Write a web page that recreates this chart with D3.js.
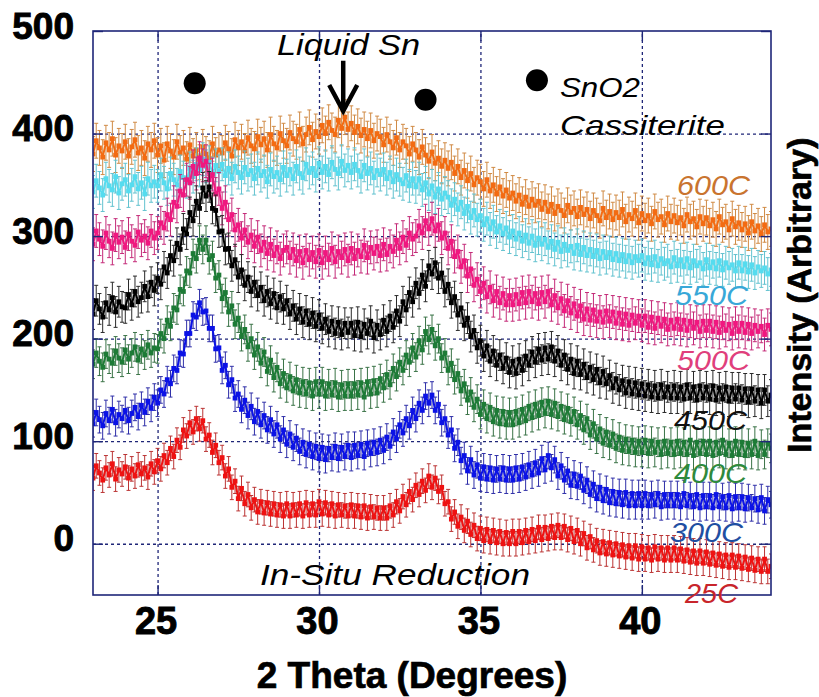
<!DOCTYPE html>
<html>
<head>
<meta charset="utf-8">
<script src="https://cdn.jsdelivr.net/npm/d3@7"></script>
<style>
  html, body { margin: 0; padding: 0; background: #ffffff; }
  svg { display: block; font-family: "Liberation Sans", Arial, sans-serif; }
</style>
</head>
<body>
<svg id="chart" width="819" height="697"></svg>
<script>
// In-situ XRD scans of SnO2 reduction, 2-theta from 23 to 44 deg in 0.1 deg steps
// (one row below = one degree).
const scanStart = 23.0;
const scanStep = 0.1;

const temperatures = ["600C", "550C", "500C", "450C", "400C", "300C", "25C"];

const scan600 = [
  380, 393, 386, 377, 391, 384, 395, 379, 388, 383,
  392, 378, 387, 394, 381, 386, 376, 390, 384, 393,
  379, 388, 374, 390, 383, 377, 392, 381, 386, 375,
  389, 378, 384, 372, 387, 380, 376, 390, 379, 384,
  381, 391, 385, 378, 394, 386, 392, 383, 396, 388,
  385, 397, 389, 395, 384, 399, 390, 386, 400, 393,
  388, 401, 395, 392, 404, 390, 399, 406, 394, 402,
  397, 408, 400, 411, 403, 399, 413, 405, 416, 404,
  410, 401, 407, 398, 404, 395, 403, 393, 400, 397,
  389, 399, 392, 386, 396, 384, 392, 388, 380, 390,
  384, 377, 387, 379, 373, 382, 371, 376, 368, 374,
  366, 372, 361, 368, 357, 364, 354, 361, 350, 357,
  353, 346, 355, 344, 350, 341, 348, 339, 345, 337,
  342, 334, 340, 331, 338, 329, 336, 330, 334, 326,
  333, 324, 331, 322, 329, 325, 320, 330, 323, 327,
  319, 328, 321, 326, 317, 325, 320, 315, 327, 318,
  324, 316, 323, 318, 326, 314, 321, 317, 325, 313,
  322, 315, 320, 312, 324, 316, 319, 311, 322, 314,
  320, 313, 318, 310, 321, 314, 317, 309, 319, 312,
  318, 310, 316, 307, 319, 311, 314, 306, 317, 309,
  313, 306, 312, 303, 314, 305, 310, 302, 311, 304,
  307
];
const scan550 = [
  343, 354, 347, 340, 356, 349, 345, 358, 342, 351,
  355, 344, 350, 358, 346, 352, 341, 356, 349, 353,
  349, 360, 352, 346, 361, 355, 350, 363, 357, 353,
  366, 358, 370, 364, 375, 368, 372, 361, 369, 363,
  370, 359, 366, 356, 368, 362, 357, 367, 360, 364,
  356, 366, 359, 363, 353, 365, 358, 362, 355, 367,
  359, 365, 356, 368, 361, 357, 370, 362, 366, 359,
  371, 362, 368, 360, 372, 365, 361, 373, 364, 369,
  362, 370, 364, 358, 369, 361, 366, 357, 364, 360,
  365, 356, 362, 353, 360, 355, 351, 359, 349, 356,
  348, 356, 345, 352, 341, 349, 338, 346, 336, 342,
  338, 330, 336, 326, 333, 322, 329, 318, 325, 316,
  320, 311, 317, 307, 314, 304, 310, 302, 308, 299,
  305, 297, 303, 295, 301, 293, 300, 291, 298, 292,
  297, 289, 295, 287, 294, 285, 292, 286, 290, 283,
  291, 282, 289, 281, 287, 280, 286, 278, 285, 279,
  284, 277, 283, 276, 282, 275, 281, 274, 280, 276,
  281, 273, 279, 272, 280, 271, 278, 273, 276, 270,
  279, 271, 277, 270, 278, 269, 276, 271, 274, 268,
  277, 269, 275, 268, 276, 267, 274, 269, 272, 266,
  274, 266, 273, 265, 272, 264, 270, 266, 269, 263,
  267
];
const scan500 = [
  292, 305, 297, 290, 303, 295, 288, 301, 294, 299,
  289, 302, 295, 291, 304, 296, 300, 293, 305, 298,
  303, 313, 308, 321, 316, 333, 329, 344, 340, 355,
  352, 368, 361, 376, 369, 373, 355, 360, 341, 346,
  327, 333, 316, 321, 306, 311, 298, 306, 294, 301,
  290, 299, 286, 294, 283, 292, 281, 289, 278, 286,
  289, 279, 287, 276, 285, 274, 286, 277, 284, 275,
  286, 274, 284, 277, 288, 275, 285, 279, 287, 276,
  288, 278, 286, 280, 291, 279, 289, 283, 290, 281,
  292, 282, 290, 285, 296, 288, 299, 291, 303, 297,
  300, 310, 303, 315, 307, 317, 305, 311, 298, 303,
  288, 295, 280, 285, 270, 276, 261, 268, 252, 258,
  246, 254, 241, 250, 237, 246, 235, 244, 233, 242,
  233, 243, 234, 245, 235, 246, 236, 244, 234, 245,
  236, 246, 233, 242, 230, 239, 227, 237, 225, 234,
  222, 232, 219, 229, 218, 228, 217, 226, 216, 227,
  217, 226, 215, 225, 214, 224, 213, 223, 215, 222,
  213, 222, 211, 221, 210, 220, 212, 219, 209, 218,
  210, 219, 209, 218, 208, 217, 210, 216, 207, 217,
  208, 217, 207, 216, 206, 215, 208, 214, 205, 215,
  207, 215, 206, 214, 205, 213, 207, 212, 204, 213,
  209
];
const scan450 = [
  224, 237, 229, 221, 235, 228, 240, 226, 236, 231,
  230, 243, 233, 246, 236, 240, 251, 241, 255, 247,
  259, 253, 270, 264, 281, 276, 293, 287, 307, 302,
  323, 315, 334, 327, 347, 339, 348, 327, 325, 304,
  305, 287, 288, 271, 277, 260, 267, 252, 260, 246,
  255, 242, 250, 237, 246, 234, 244, 230, 241, 229,
  237, 224, 232, 219, 229, 216, 227, 214, 225, 212,
  223, 210, 219, 207, 217, 205, 216, 204, 215, 206,
  215, 203, 216, 202, 214, 205, 217, 201, 213, 204,
  218, 207, 222, 211, 227, 217, 236, 228, 245, 236,
  254, 244, 262, 251, 271, 263, 274, 259, 264, 246,
  253, 235, 241, 223, 230, 213, 220, 202, 208, 191,
  198, 183, 193, 178, 188, 174, 184, 171, 181, 167,
  178, 166, 180, 169, 183, 174, 187, 177, 190, 179,
  191, 180, 192, 178, 188, 174, 184, 170, 180, 166,
  178, 165, 175, 162, 172, 160, 170, 157, 168, 156,
  164, 152, 161, 150, 159, 147, 158, 146, 157, 145,
  156, 144, 155, 143, 154, 142, 155, 143, 153, 142,
  154, 142, 153, 141, 155, 142, 153, 140, 154, 142,
  153, 141, 154, 140, 152, 141, 153, 139, 152, 141,
  152, 140, 151, 138, 151, 139, 150, 137, 150, 139,
  145
];
const scan400 = [
  175, 186, 178, 172, 185, 180, 176, 188, 181, 177,
  189, 180, 186, 192, 179, 190, 184, 194, 186, 191,
  190, 205, 200, 218, 212, 230, 228, 248, 246, 266,
  264, 283, 278, 296, 287, 296, 277, 281, 259, 262,
  239, 245, 226, 232, 214, 220, 202, 209, 192, 200,
  184, 192, 176, 187, 168, 179, 162, 172, 156, 166,
  152, 163, 149, 160, 147, 158, 146, 157, 144, 158,
  146, 158, 144, 156, 145, 157, 143, 155, 144, 156,
  144, 156, 145, 157, 143, 158, 146, 159, 147, 161,
  152, 165, 155, 171, 163, 177, 169, 184, 177, 191,
  182, 198, 189, 207, 199, 209, 193, 200, 181, 186,
  169, 176, 160, 166, 149, 156, 140, 148, 133, 141,
  126, 136, 122, 133, 119, 130, 117, 129, 116, 128,
  116, 129, 118, 131, 120, 134, 123, 136, 125, 138,
  127, 139, 126, 137, 124, 134, 121, 132, 119, 129,
  116, 125, 111, 122, 106, 117, 102, 112, 98, 109,
  96, 107, 93, 104, 91, 102, 90, 101, 89, 100,
  89, 101, 88, 100, 89, 99, 87, 100, 88, 99,
  87, 100, 88, 99, 87, 101, 86, 99, 88, 100,
  87, 100, 86, 99, 88, 101, 87, 98, 86, 100,
  87, 99, 86, 98, 87, 100, 86, 97, 87, 98,
  93
];
const scan300 = [
  117, 128, 121, 115, 127, 120, 131, 118, 126, 122,
  130, 120, 127, 133, 124, 135, 128, 139, 132, 143,
  137, 150, 146, 160, 156, 171, 169, 186, 185, 205,
  205, 223, 221, 235, 226, 227, 210, 210, 190, 191,
  169, 174, 155, 160, 142, 146, 131, 140, 125, 134,
  119, 129, 116, 125, 111, 121, 107, 116, 102, 111,
  97, 107, 94, 103, 90, 99, 87, 97, 85, 95,
  83, 94, 82, 93, 84, 95, 83, 94, 85, 96,
  84, 96, 86, 97, 85, 98, 88, 99, 89, 101,
  91, 104, 95, 109, 102, 116, 108, 122, 115, 130,
  122, 137, 130, 144, 137, 145, 130, 136, 118, 122,
  106, 111, 93, 99, 81, 86, 71, 82, 67, 77,
  64, 75, 63, 74, 62, 73, 63, 74, 62, 73,
  62, 74, 63, 75, 65, 77, 67, 79, 69, 83,
  72, 86, 74, 82, 66, 76, 62, 71, 57, 68,
  56, 66, 52, 62, 48, 58, 44, 55, 42, 53,
  40, 51, 39, 50, 38, 50, 37, 49, 37, 49,
  37, 49, 37, 48, 38, 49, 36, 48, 37, 48,
  37, 48, 36, 49, 37, 47, 36, 48, 35, 47,
  36, 47, 35, 48, 36, 46, 35, 47, 34, 46,
  35, 46, 34, 45, 35, 44, 33, 45, 32, 43,
  38
];
const scan25 = [
  64, 76, 69, 62, 74, 67, 78, 63, 72, 68,
  75, 64, 73, 66, 77, 68, 74, 65, 78, 70,
  81, 73, 86, 79, 93, 85, 101, 94, 111, 105,
  118, 109, 122, 112, 120, 102, 106, 89, 96, 79,
  84, 66, 73, 55, 61, 44, 54, 39, 48, 35,
  43, 31, 41, 30, 40, 29, 39, 28, 38, 27,
  39, 27, 38, 28, 39, 27, 40, 28, 39, 28,
  41, 29, 40, 28, 39, 27, 38, 28, 37, 27,
  38, 27, 37, 26, 37, 25, 36, 26, 35, 25,
  35, 25, 37, 28, 41, 32, 46, 38, 51, 43,
  57, 48, 61, 52, 66, 55, 64, 51, 55, 39,
  41, 24, 31, 17, 26, 13, 22, 9, 18, 5,
  15, 3, 14, 2, 13, 1, 12, 0, 11, 0,
  12, 0, 12, 1, 13, 2, 14, 3, 16, 4,
  16, 5, 17, 6, 18, 6, 17, 4, 15, 2,
  13, 0, 10, -4, 7, -6, 3, -9, 2, -10,
  1, -11, 0, -12, -1, -13, -2, -14, -2, -15,
  -3, -15, -4, -16, -3, -15, -4, -16, -4, -16,
  -4, -16, -5, -17, -6, -18, -7, -19, -7, -19,
  -8, -20, -9, -21, -10, -22, -11, -23, -11, -23,
  -12, -24, -13, -25, -14, -26, -15, -27, -15, -27,
  -22
];

// counting-statistics error (+/-) for each scan
const scanErrors = [17, 16, 16, 15, 14, 13, 12];

const xTicks = [25, 30, 35, 40];
const yTicks = [0, 100, 200, 300, 400, 500];

// SnO2 (cassiterite) reflections and the liquid Sn hump
const cassiteritePeaks = [26.15, 33.3, 36.75];
const cassiteriteMarkHeights = [449, 433, 452];
const liquidSnPeak = 30.75;
const liquidSnArrow = [471, 422];

// ---------------------------------------------------------------------------
const scans = [scan600, scan550, scan500, scan450, scan400, scan300, scan25];

const style = {
  "600C": { mark: "#f36b12", bar: "#d08a44", label: "#c9742f" },
  "550C": { mark: "#55dcef", bar: "#62c2cf", label: "#38a8d8" },
  "500C": { mark: "#f0177f", bar: "#c42a78", label: "#e03f7c" },
  "450C": { mark: "#000000", bar: "#2a2a2a", label: "#111111" },
  "400C": { mark: "#1d7b36", bar: "#3a7347", label: "#2e8a3c" },
  "300C": { mark: "#0b12e6", bar: "#2f2fa8", label: "#1f4fa2" },
  "25C":  { mark: "#ee1212", bar: "#bb3434", label: "#c8252b" }
};

// where each scan's temperature tag sits (right edge, baseline)
const tagPlacement = {
  "600C": [750, 195], "550C": [748, 305], "500C": [750, 370],
  "450C": [747, 430], "400C": [747, 483], "300C": [743, 542], "25C": [738, 603]
};

const svg = d3.select("#chart");
const plotL = 93, plotR = 771, plotT = 31, plotB = 595;
const navy = "#1f2678";

const x = d3.scaleLinear().domain([23, 44]).range([plotL, plotR]);
const y = d3.scaleLinear().domain([-50, 500]).range([plotB, plotT]);

// dotted grid
const gx = svg.append("g").attr("transform", `translate(0,${plotB})`)
  .call(d3.axisBottom(x).tickValues(xTicks).tickSize(-(plotB - plotT)).tickFormat(""));
const gy = svg.append("g").attr("transform", `translate(${plotL},0)`)
  .call(d3.axisLeft(y).tickValues(yTicks.filter(v => v < 500)).tickSize(-(plotR - plotL)).tickFormat(""));
[gx, gy].forEach(g => {
  g.select(".domain").remove();
  g.selectAll(".tick line").attr("stroke", navy).attr("stroke-width", 1.3)
    .attr("stroke-dasharray", "3,3");
});

// scans
svg.append("clipPath").attr("id", "plotClip").append("rect")
  .attr("x", plotL).attr("y", plotT).attr("width", plotR - plotL).attr("height", plotB - plotT);
const plot = svg.append("g").attr("clip-path", "url(#plotClip)");

scans.forEach((vals, k) => {
  const name = temperatures[k];
  const st = style[name];
  const err = scanErrors[k];
  const pts = vals.map((v, i) => ({ t: scanStart + scanStep * i, v }));
  const g = plot.append("g");

  g.selectAll("path.err").data(pts).join("path").attr("class", "err")
    .attr("fill", "none").attr("stroke", st.bar).attr("stroke-width", 1)
    .attr("d", d => {
      const cx = x(d.t), y1 = y(d.v + err), y2 = y(d.v - err);
      return `M${cx},${y1}V${y2}M${cx - 2},${y1}h4M${cx - 2},${y2}h4`;
    });

  g.append("path").datum(pts)
    .attr("fill", "none").attr("stroke", st.mark).attr("stroke-width", 2)
    .attr("stroke-linejoin", "round")
    .attr("d", d3.line().x(d => x(d.t)).y(d => y(d.v)));

  g.selectAll("rect").data(pts).join("rect")
    .attr("x", d => x(d.t) - 2.4).attr("y", d => y(d.v) - 2.4)
    .attr("width", 4.8).attr("height", 4.8).attr("fill", st.mark);
});

// inward ticks on all four sides
const tickAxes = [
  [d3.axisBottom(x).tickValues(xTicks), `translate(0,${plotB})`],
  [d3.axisTop(x).tickValues(xTicks), `translate(0,${plotT})`],
  [d3.axisLeft(y).tickValues(yTicks), `translate(${plotL},0)`],
  [d3.axisRight(y).tickValues(yTicks), `translate(${plotR},0)`]
];
tickAxes.forEach(([ax, tr]) => {
  const g = svg.append("g").attr("transform", tr).call(ax.tickSize(-10).tickFormat(""));
  g.select(".domain").remove();
  g.selectAll(".tick line").attr("stroke", navy).attr("stroke-width", 1.4);
});

svg.append("rect").attr("x", plotL).attr("y", plotT)
  .attr("width", plotR - plotL).attr("height", plotB - plotT)
  .attr("fill", "none").attr("stroke", navy).attr("stroke-width", 1.6);

// tick labels (heavy weight, thickened with a thin outline)
const yl = svg.append("g").attr("transform", `translate(${plotL},0)`)
  .call(d3.axisLeft(y).tickValues(yTicks).tickSize(0).tickPadding(19));
yl.select(".domain").remove();
yl.selectAll("text").attr("dy", "7px").attr("fill", "#000")
  .attr("stroke", "#000").attr("stroke-width", 0.9)
  .style("font-size", "37px").style("font-weight", "bold")
  .style("font-family", "'Liberation Sans', Arial, sans-serif");

const xl = svg.append("g").attr("transform", `translate(0,${plotB})`)
  .call(d3.axisBottom(x).tickValues(xTicks).tickSize(0).tickPadding(12));
xl.select(".domain").remove();
xl.selectAll("text").attr("fill", "#000").attr("dx", "-2px")
  .attr("stroke", "#000").attr("stroke-width", 0.9)
  .style("font-size", "38px").style("font-weight", "bold")
  .style("font-family", "'Liberation Sans', Arial, sans-serif");

// axis titles
svg.append("text").attr("x", 412).attr("y", 688).attr("text-anchor", "middle")
  .attr("font-size", 37).attr("font-weight", "bold").attr("fill", "#000")
  .attr("stroke", "#000").attr("stroke-width", 0.7)
  .text("2 Theta (Degrees)");

svg.append("text").attr("transform", "translate(811,453) rotate(-90)")
  .attr("font-size", 34).attr("font-weight", "bold").attr("fill", "#000")
  .attr("stroke", "#000").attr("stroke-width", 0.6)
  .text("Intensity (Arbitrary)");

// annotations
function note(txt, x0, base, width, size, color) {
  svg.append("text").attr("x", x0).attr("y", base)
    .attr("font-size", size).attr("font-style", "italic").attr("fill", color)
    .attr("textLength", width).attr("lengthAdjust", "spacingAndGlyphs")
    .text(txt);
}

svg.selectAll("circle.sno2").data(cassiteritePeaks).join("circle").attr("class", "sno2")
  .attr("cx", d => x(d)).attr("cy", (d, i) => y(cassiteriteMarkHeights[i]))
  .attr("r", 11).attr("fill", "#000");

const ax = x(liquidSnPeak), ay0 = y(liquidSnArrow[0]), ay1 = y(liquidSnArrow[1]);
svg.append("path").attr("d", `M${ax},${ay0}V${ay1 - 3}`)
  .attr("stroke", "#000").attr("stroke-width", 4.5).attr("fill", "none");
svg.append("path").attr("d", `M${ax - 14},${ay1 - 26}L${ax},${ay1}L${ax + 14},${ay1 - 26}`)
  .attr("stroke", "#000").attr("stroke-width", 4.5).attr("fill", "none")
  .attr("stroke-linejoin", "miter");

note("Liquid Sn", 277, 55, 143, 30, "#000");
note("SnO2", 560, 97, 80, 28, "#000");
note("Cassiterite", 560, 135, 165, 28, "#000");
note("In-Situ Reduction", 260, 585, 270, 30, "#000");

temperatures.forEach(name => {
  const [rx, base] = tagPlacement[name];
  const w = name.length === 4 ? 73 : 53;
  note(name, rx - w, base, w, 28, style[name].label);
});
</script>
</body>
</html>
